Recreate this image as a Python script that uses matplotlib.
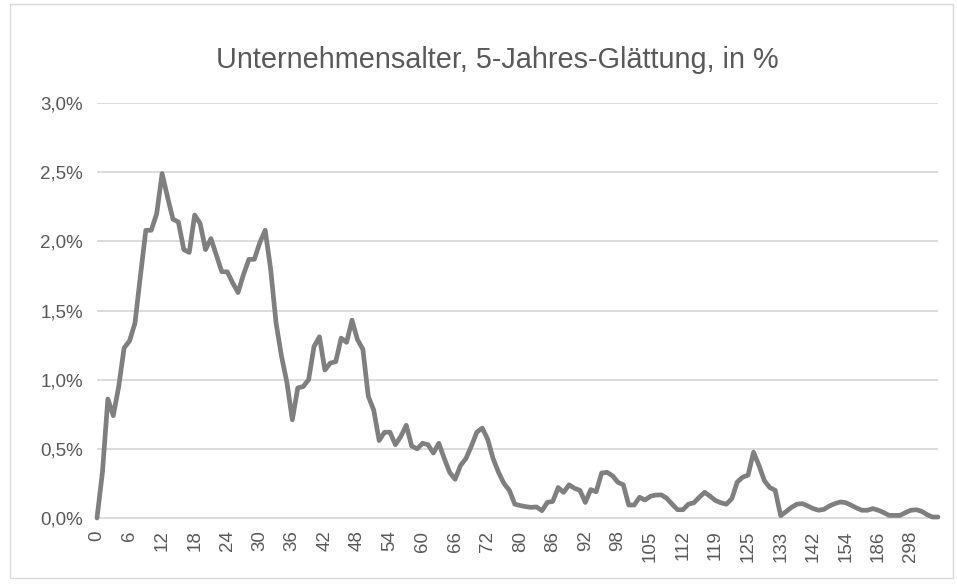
import matplotlib
matplotlib.use("Agg")
import matplotlib.pyplot as plt
from matplotlib.ticker import FuncFormatter, FixedLocator
from matplotlib.patches import Rectangle

title = "Unternehmensalter, 5-Jahres-Glättung, in %"

# smoothed share (in %) per age category, in category order
values = [
    0.00, 0.33, 0.86, 0.74, 0.95, 1.23, 1.28, 1.41, 1.75, 2.08,
    2.08, 2.20, 2.49, 2.32, 2.16, 2.14, 1.94, 1.92, 2.19, 2.13,
    1.94, 2.02, 1.90, 1.78, 1.78, 1.70, 1.63, 1.76, 1.87, 1.87,
    1.99, 2.08, 1.80, 1.41, 1.17, 0.98, 0.71, 0.94, 0.95, 1.00,
    1.24, 1.31, 1.07, 1.12, 1.13, 1.30, 1.27, 1.43, 1.29, 1.22,
    0.88, 0.78, 0.56, 0.62, 0.62, 0.53, 0.59, 0.67, 0.52, 0.50,
    0.54, 0.53, 0.47, 0.54, 0.43, 0.33, 0.28, 0.38, 0.43, 0.52,
    0.62, 0.65, 0.57, 0.43, 0.33, 0.25, 0.20, 0.10, 0.09, 0.082,
    0.077, 0.08, 0.053, 0.113, 0.12, 0.22, 0.185, 0.24, 0.215, 0.20,
    0.113, 0.205, 0.19, 0.325, 0.33, 0.306, 0.258, 0.24, 0.094, 0.094,
    0.15, 0.13, 0.157, 0.166, 0.167, 0.143, 0.10, 0.06, 0.06, 0.10,
    0.11, 0.15, 0.186, 0.157, 0.126, 0.11, 0.10, 0.14, 0.26, 0.295,
    0.31, 0.476, 0.38, 0.27, 0.22, 0.20, 0.017, 0.046, 0.077, 0.10,
    0.104, 0.087, 0.068, 0.056, 0.063, 0.087, 0.104, 0.116, 0.111, 0.092,
    0.072, 0.056, 0.056, 0.068, 0.056, 0.039, 0.019, 0.019, 0.019, 0.039,
    0.056, 0.06, 0.048, 0.024, 0.007, 0.007,
]

# labels shown on every 6th category
tick_labels = ["0", "6", "12", "18", "24", "30", "36", "42", "48", "54",
               "60", "66", "72", "80", "86", "92", "98", "105", "112", "119",
               "125", "133", "142", "154", "186", "298"]
tick_step = 6

y_ticks = [0.0, 0.5, 1.0, 1.5, 2.0, 2.5, 3.0]

plt.rcParams['font.family'] = ['Liberation Sans', 'DejaVu Sans']
text_color = "#595959"
grid_color = "#d9d9d9"

W, H = 957, 584
fig = plt.figure(figsize=(W / 100, H / 100), dpi=100)

# chart border
border = Rectangle((10 / W, 6 / H), (W - 14) / W, (H - 10) / H,
                   transform=fig.transFigure, facecolor="none",
                   edgecolor=grid_color, linewidth=1.0, zorder=5)
fig.patches.append(border)

left, right = 97, 938
top, bottom = 103, 518
ax = fig.add_axes([left / W, 1 - bottom / H, (right - left) / W, (bottom - top) / H])
ax.set_facecolor("none")

x = list(range(len(values)))
ax.plot(x, values, color="#7f7f7f", linewidth=3.4, solid_joinstyle="round",
        solid_capstyle="round", zorder=3, clip_on=False)

ax.set_xlim(0, len(values) - 1)
ax.set_ylim(0, 3.0)

ax.yaxis.set_major_locator(FixedLocator(y_ticks))
ax.yaxis.set_major_formatter(FuncFormatter(lambda v, p: f"{v:.1f}%".replace(".", ",")))
ax.grid(axis="y", color=grid_color, linewidth=1.3, zorder=1)
ax.set_axisbelow(True)

tick_pos = [i * tick_step for i in range(len(tick_labels))]
ax.set_xticks(tick_pos)
ax.set_xticklabels(tick_labels, rotation=90)

for s in ["top", "right", "left"]:
    ax.spines[s].set_visible(False)
ax.spines["bottom"].set_color(grid_color)
ax.spines["bottom"].set_linewidth(1.3)

ax.tick_params(axis="both", length=0, colors=text_color, labelsize=13.5)
ax.tick_params(axis="y", pad=10)
ax.tick_params(axis="x", pad=9)

fig.text(497 / W, 1 - 60 / H, title, ha="center", va="center",
         fontsize=20.8, color=text_color)

fig.savefig("out.png", dpi=100, facecolor="white")
